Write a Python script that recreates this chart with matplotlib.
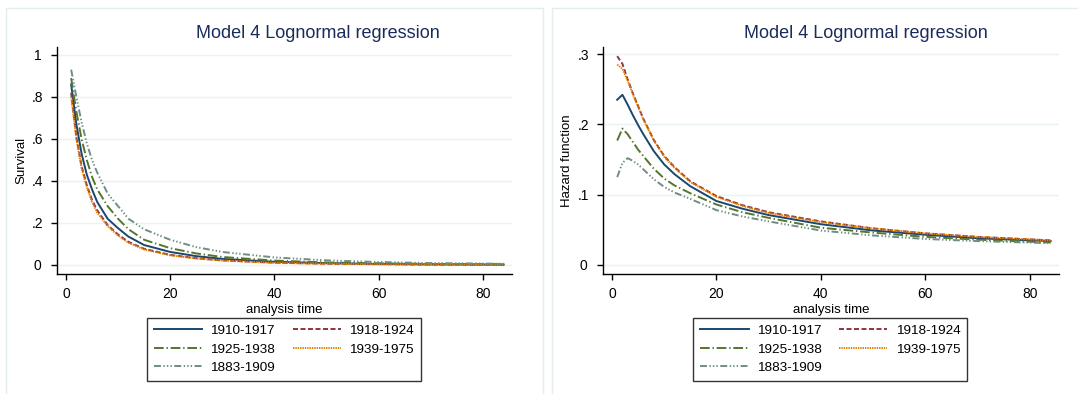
import numpy as np
import matplotlib.pyplot as plt
from matplotlib.patches import Rectangle

plt.rcParams['font.family'] = ['Liberation Sans', 'DejaVu Sans']
plt.rcParams['lines.scale_dashes'] = False

# time points
t = [1, 2, 3, 4, 5, 6, 8, 10, 12, 15, 20, 25, 30, 40, 50, 60, 70, 84]

# survival, by cohort
surv_1910 = [0.86, 0.67, 0.53, 0.43, 0.36, 0.30, 0.22, 0.175, 0.135, 0.095, 0.062, 0.042, 0.029, 0.015, 0.009, 0.005, 0.003, 0.002]
surv_1918 = [0.82, 0.61, 0.47, 0.38, 0.31, 0.26, 0.19, 0.145, 0.110, 0.077, 0.048, 0.032, 0.022, 0.011, 0.006, 0.004, 0.002, 0.001]
surv_1925 = [0.89, 0.73, 0.60, 0.50, 0.42, 0.36, 0.28, 0.220, 0.170, 0.120, 0.080, 0.055, 0.038, 0.021, 0.012, 0.008, 0.005, 0.003]
surv_1939 = [0.80, 0.60, 0.46, 0.37, 0.30, 0.25, 0.185, 0.140, 0.106, 0.074, 0.046, 0.031, 0.021, 0.010, 0.006, 0.003, 0.002, 0.001]
surv_1883 = [0.93, 0.80, 0.68, 0.58, 0.50, 0.44, 0.34, 0.280, 0.220, 0.170, 0.120, 0.085, 0.062, 0.036, 0.022, 0.014, 0.009, 0.006]

# hazard, by cohort
haz_1910 = [0.235, 0.242, 0.228, 0.213, 0.199, 0.186, 0.162, 0.143, 0.129, 0.112, 0.091, 0.080, 0.071, 0.058, 0.049, 0.043, 0.038, 0.034]
haz_1918 = [0.297, 0.286, 0.264, 0.244, 0.226, 0.208, 0.178, 0.155, 0.139, 0.119, 0.098, 0.085, 0.075, 0.062, 0.052, 0.045, 0.040, 0.035]
haz_1925 = [0.177, 0.194, 0.186, 0.175, 0.164, 0.155, 0.137, 0.123, 0.113, 0.102, 0.086, 0.075, 0.067, 0.053, 0.046, 0.040, 0.036, 0.032]
haz_1939 = [0.285, 0.279, 0.262, 0.243, 0.225, 0.207, 0.177, 0.154, 0.138, 0.118, 0.097, 0.084, 0.074, 0.061, 0.052, 0.045, 0.040, 0.035]
haz_1883 = [0.125, 0.145, 0.152, 0.148, 0.143, 0.136, 0.122, 0.111, 0.103, 0.094, 0.078, 0.069, 0.062, 0.049, 0.042, 0.037, 0.034, 0.031]

labels = ['1910-1917', '1918-1924', '1925-1938', '1939-1975', '1883-1909']
colors = ['#1a476f', '#90353b', '#55752f', '#e37e00', '#6e8e84']
dashes = [None, (3.6, 1.8), (7, 2, 1, 2), (1, 0.7), (5, 1.8, 1, 1.5, 1, 1.5, 1, 1.8)]

surv = [surv_1910, surv_1918, surv_1925, surv_1939, surv_1883]
haz = [haz_1910, haz_1918, haz_1925, haz_1939, haz_1883]

fig = plt.figure(figsize=(10.78, 3.94), dpi=100)
fig.patch.set_facecolor('white')

# faint panel frames
for x0, w in [(6, 537), (552, 530)]:
    fig.patches.append(Rectangle((x0 / 1078, -0.1), w / 1078, 1.1 - 8 / 394,
                                 transform=fig.transFigure, fill=False,
                                 edgecolor='#e3ecef', lw=1))

ax1 = fig.add_axes([57 / 1078, 1 - 274 / 394, 455 / 1078, 227 / 394])
ax2 = fig.add_axes([603 / 1078, 1 - 274 / 394, 456 / 1078, 227 / 394])

panels = [
    (ax1, surv, 'Survival', [0, 0.2, 0.4, 0.6, 0.8, 1.0], ['0', '.2', '.4', '.6', '.8', '1'], (-0.043, 1.038), 318),
    (ax2, haz, 'Hazard function', [0, 0.1, 0.2, 0.3], ['0', '.1', '.2', '.3'], (-0.0128, 0.310), 866),
]

for ax, series, ylab, yt, ytl, ylim, tx in panels:
    handles = []
    for s, lab, c, d in zip(series, labels, colors, dashes):
        ln, = ax.plot(t, s, color=c, lw=1.4, label=lab)
        if d is not None:
            ln.set_dashes(d)
        handles.append(ln)
    ax.set_xlim(-1.72, 85.6)
    ax.set_ylim(*ylim)
    ax.set_xticks([0, 20, 40, 60, 80])
    ax.set_yticks(yt)
    ax.set_yticklabels(ytl)
    for lbl in ax.get_yticklabels():
        lbl.set_horizontalalignment('center')
    ax.tick_params(axis='y', direction='out', length=4, width=1, pad=10, labelsize=10)
    ax.tick_params(axis='x', direction='out', length=4, width=1, pad=5, labelsize=10)
    ax.grid(axis='y', color='#eaf2f3', lw=1)
    ax.set_axisbelow(True)
    for sp in ['top', 'right']:
        ax.spines[sp].set_visible(False)
    for sp in ['left', 'bottom']:
        ax.spines[sp].set_linewidth(1)
    ax.set_ylabel(ylab, fontsize=9.5)
    ax.yaxis.set_label_coords(-0.066, 0.5)
    ax.set_xlabel('analysis time', fontsize=9.5)
    ax.xaxis.set_label_coords(0.5, -0.132)
    fig.text(tx / 1078, 1 - 34 / 394, 'Model 4 Lognormal regression',
             ha='center', va='center', fontsize=13, color='#1a2c5b')
    order = [0, 2, 4, 1, 3]
    leg = ax.legend([handles[i] for i in order], [labels[i] for i in order],
                    ncol=2, loc='upper left', bbox_to_anchor=(0.198, -0.194),
                    borderaxespad=0, fontsize=9.7, handlelength=3.6,
                    handletextpad=0.6, columnspacing=1.3, labelspacing=0.45,
                    frameon=True, fancybox=False, edgecolor='black',
                    borderpad=0.5)
    leg.get_frame().set_linewidth(1)

fig.savefig('out.png', dpi=100)
